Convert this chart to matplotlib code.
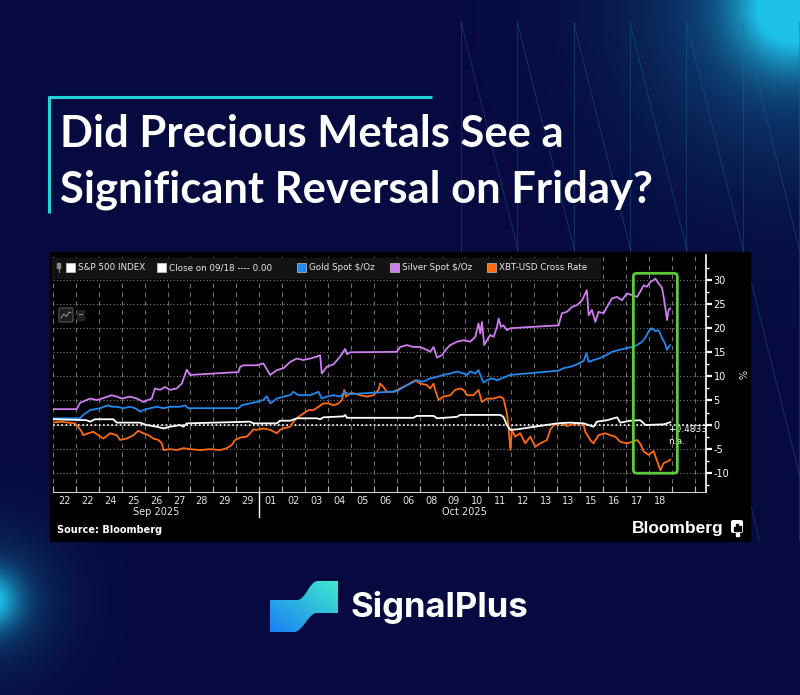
import numpy as np
import matplotlib
matplotlib.use('Agg')
import matplotlib.pyplot as plt
from matplotlib.patches import Rectangle, FancyBboxPatch, PathPatch
from matplotlib.path import Path
from matplotlib.ticker import FixedLocator

plt.rcParams['axes.unicode_minus'] = False

W, H = 800, 695

# % change since 09/18 close, x = days from left edge of the chart window
silver_x = [0.00, 1.03, 1.18, 1.62, 1.91, 2.20, 2.56, 2.78, 3.00, 3.36, 3.66, 3.94, 4.31, 4.45, 4.67, 4.89, 5.11, 5.40, 5.62, 5.84,
            5.98, 8.09, 8.17, 8.31, 8.60, 8.90, 9.18, 9.48, 9.77, 10.06, 10.35, 10.64, 10.93, 11.22, 11.52, 11.66, 11.73, 11.95, 12.24, 12.53,
            12.75, 12.83, 12.97, 15.01, 15.15, 15.45, 15.73, 16.03, 16.32, 16.46, 16.61, 16.76, 16.97, 17.19, 17.34, 17.63, 17.92, 18.21, 18.43, 18.57,
            18.65, 18.72, 18.82, 18.94, 19.08, 19.23, 19.38, 19.45, 19.55, 19.66, 19.81, 19.96, 22.07, 22.21, 22.43, 22.65, 22.87, 23.09, 23.23, 23.30,
            23.38, 23.52, 23.67, 23.81, 24.03, 24.18, 24.40, 24.62, 24.83, 25.05, 25.27, 25.49, 25.63, 25.78, 25.92, 26.07, 26.21, 26.29, 26.43, 26.58,
            26.65, 26.72, 26.80, 26.87, 26.94]
silver_y = [3.2, 3.2, 4.5, 5.4, 5.1, 5.5, 6.1, 5.8, 5.4, 5.8, 5.4, 4.7, 5.4, 7.5, 7.2, 7.8, 7.2, 7.5, 8.5, 11.4,
            10.3, 10.9, 12.0, 12.3, 12.3, 12.3, 12.7, 10.3, 11.3, 11.7, 13.0, 13.7, 13.4, 13.7, 14.1, 14.4, 10.6, 12.0, 12.5, 14.1,
            15.7, 14.6, 15.0, 15.1, 16.1, 16.5, 16.1, 16.1, 15.5, 15.1, 16.1, 13.9, 14.4, 15.8, 16.5, 17.2, 17.5, 17.2, 18.2, 21.0,
            18.9, 21.3, 16.5, 17.5, 18.6, 18.2, 20.3, 22.0, 20.3, 20.6, 19.6, 20.0, 20.6, 23.1, 23.4, 24.4, 24.8, 25.8, 27.2, 27.9,
            22.7, 23.8, 21.3, 23.4, 23.1, 24.4, 26.2, 26.5, 25.8, 27.2, 26.9, 26.5, 27.6, 28.9, 28.6, 29.6, 30.0, 30.3, 29.3, 28.4,
            26.5, 24.4, 21.7, 23.8, 24.1]

gold_x = [0.00, 1.18, 1.32, 1.62, 2.05, 2.41, 2.56, 2.78, 3.07, 3.36, 3.58, 3.80, 3.94, 4.24, 4.53, 4.82, 5.11, 5.55, 5.76, 5.91,
          8.09, 8.24, 8.60, 8.90, 9.18, 9.33, 9.48, 9.77, 10.06, 10.35, 10.49, 10.71, 10.93, 11.22, 11.59, 11.73, 11.95, 12.24, 12.53, 12.68,
          12.75, 12.90, 15.01, 15.30, 15.59, 15.88, 16.17, 16.46, 16.76, 17.04, 17.34, 17.63, 17.92, 18.07, 18.21, 18.43, 18.57, 18.65, 18.79, 18.94,
          19.16, 19.38, 19.59, 19.74, 19.96, 22.07, 22.28, 22.58, 22.87, 23.16, 23.28, 23.38, 23.59, 23.81, 24.10, 24.40, 24.69, 24.98, 25.27, 25.49,
          25.71, 25.85, 26.00, 26.14, 26.29, 26.43, 26.58, 26.72, 26.80, 26.87, 26.94]
gold_y = [1.3, 1.3, 2.0, 3.0, 3.4, 4.0, 3.7, 3.7, 3.4, 3.7, 3.4, 2.7, 3.0, 3.4, 3.7, 3.4, 3.7, 3.7, 4.0, 3.4,
          3.4, 4.0, 4.4, 4.7, 5.1, 5.9, 4.4, 5.4, 5.8, 6.1, 6.8, 6.1, 6.1, 6.1, 6.8, 5.4, 5.8, 6.1, 5.8, 6.5,
          6.8, 6.3, 6.9, 7.8, 8.5, 9.2, 8.9, 9.6, 9.9, 10.3, 10.6, 11.0, 10.6, 10.3, 11.0, 10.6, 11.3, 10.3, 8.7, 9.2,
          9.6, 9.2, 9.6, 9.9, 10.3, 11.2, 11.7, 12.0, 12.5, 13.2, 14.8, 13.0, 13.4, 13.7, 14.3, 15.1, 15.5, 15.8, 16.1, 16.5,
          17.2, 18.0, 19.4, 20.0, 19.4, 19.6, 18.0, 16.7, 15.5, 16.1, 16.5]

spx_x = [0.00, 1.47, 1.62, 1.83, 2.63, 2.78, 3.80, 4.09, 4.53, 4.82, 5.11, 5.55, 5.69, 5.84, 8.60, 8.75, 9.77, 9.91, 10.35, 10.64,
         11.52, 11.66, 11.80, 12.68, 12.75, 12.83, 15.73, 15.88, 16.61, 16.76, 17.63, 17.77, 19.52, 19.66, 19.81, 19.96, 20.25, 22.00, 22.58, 23.16,
         23.59, 23.74, 24.18, 24.62, 24.76, 25.20, 25.63, 25.78, 25.85, 26.65, 26.80, 26.94]
spx_y = [1.1, 0.9, 0.6, 1.1, 1.1, 0.4, 0.4, -0.1, -0.45, -0.8, -0.45, -0.1, -0.45, 0.25, 0.6, 0.25, 0.25, 0.8, 0.8, 1.3,
         1.3, 1.1, 1.5, 1.7, 2.0, 1.4, 1.4, 1.8, 1.8, 1.3, 1.6, 2.0, 2.0, 1.6, -0.1, -1.1, -1.0, 0.25, 0.4, 0.25,
         -0.45, 0.6, 0.9, 1.5, 0.4, 0.8, 0.9, 0.25, -0.1, 0.05, 0.25, 0.4833]

xbt_x = [0.00, 0.31, 0.96, 1.10, 1.25, 1.32, 1.54, 1.76, 1.98, 2.20, 2.49, 2.78, 2.93, 3.22, 3.51, 3.72, 3.94, 4.16, 4.38, 4.60,
         4.75, 4.82, 5.11, 5.40, 5.69, 5.98, 6.42, 6.86, 7.29, 7.59, 7.80, 7.95, 8.17, 8.46, 8.60, 8.75, 8.90, 9.18, 9.48, 9.77,
         9.91, 10.06, 10.35, 10.49, 10.71, 10.93, 11.15, 11.37, 11.59, 11.80, 12.02, 12.24, 12.46, 12.61, 12.71, 12.79, 12.97, 13.11, 13.41, 13.70,
         13.99, 14.21, 14.28, 14.42, 14.57, 14.86, 15.15, 15.45, 15.81, 16.03, 16.32, 16.46, 16.61, 16.68, 16.83, 17.04, 17.34, 17.55, 17.77, 17.92,
         18.07, 18.35, 18.57, 18.72, 18.94, 19.23, 19.52, 19.66, 19.81, 19.88, 19.96, 20.03, 20.17, 20.39, 20.61, 20.83, 21.05, 21.27, 21.56, 21.70,
         21.85, 22.14, 22.43, 22.72, 23.01, 23.16, 23.23, 23.45, 23.59, 23.81, 24.10, 24.32, 24.54, 24.76, 25.05, 25.27, 25.49, 25.63, 25.78, 26.00,
         26.21, 26.36, 26.51, 26.65, 26.80, 26.94]
xbt_y = [0.4, 0.6, 0.25, -0.45, -1.5, -2.2, -1.8, -1.5, -2.2, -2.9, -1.8, -2.2, -3.2, -2.9, -2.2, -1.3, -1.8, -2.2, -2.9, -3.2,
         -3.9, -5.3, -5.1, -5.3, -4.9, -5.1, -5.3, -5.1, -5.3, -4.9, -4.25, -3.2, -2.7, -2.5, -1.8, -1.0, -1.1, -0.8, -1.1, -1.8,
         -1.1, -0.8, -0.45, 0.6, 1.6, 2.3, 3.0, 3.0, 3.7, 4.4, 4.4, 4.0, 4.4, 5.1, 7.2, 5.8, 6.5, 6.5, 6.1, 5.8,
         6.1, 7.2, 8.5, 7.8, 6.8, 6.8, 7.5, 8.2, 9.2, 8.5, 8.2, 7.5, 8.5, 7.2, 5.1, 5.8, 6.1, 7.2, 7.5, 7.2,
         6.1, 6.1, 7.2, 4.7, 5.4, 5.4, 5.8, 5.4, 2.3, -0.45, -5.3, -1.1, -2.5, -1.8, -3.9, -2.5, -4.6, -3.9, -3.2, -1.1,
         -0.1, 0.25, -0.3, 0.1, 0.25, 0.0, -1.5, -3.2, -3.9, -2.2, -1.8, -2.2, -2.5, -3.6, -3.9, -3.6, -3.2, -4.0, -5.6, -6.3,
         -5.5, -7.5, -9.5, -8.0, -7.7, -7.3]

close_ref = 0.00
day_labels = ['22', '22', '24', '25', '26', '27', '28', '29', '29',
              '01', '02', '03', '04', '05', '06', '06', '08', '09', '10', '11', '12', '13', '13', '15', '16', '17', '18']
month_labels = ['Sep 2025', 'Oct 2025']
month_break = 9
legend_labels = ['S&P 500 INDEX', 'Close on 09/18 ---- 0.00', 'Gold Spot $/Oz', 'Silver Spot $/Oz', 'XBT-USD Cross Rate']
title_lines = ['Did Precious Metals See a', 'Significant Reversal on Friday?']
friday_window = (25.33, 27.25)   # highlighted days
friday_range = (-10.1, 31.4)     # highlighted % range

# colours
navy = np.array([6, 10, 64]) / 255
c_spx, c_gold, c_silver, c_xbt = 'white', '#2189f0', '#cf7ef0', '#ff6a0d'
legend_colors = [c_spx, 'white', c_gold, c_silver, c_xbt]

fig = plt.figure(figsize=(8, 6.95), dpi=100)

# ---------- background (pixel coordinates) ----------
bg = fig.add_axes([0, 0, 1, 1], zorder=0)
yy, xx = np.mgrid[0:H, 0:W].astype(float)
img = np.ones((H, W, 3)) * navy

def glow(cx, cy, s, a):
    return a * np.exp(-((xx - cx) ** 2 + (yy - cy) ** 2) / (2 * s * s))

cyan = np.array([0.12, 0.76, 0.92])
for g in (glow(792, 8, 40, 0.95) + glow(792, 8, 110, 0.35), glow(-10, 600, 20, 0.8) + glow(-10, 600, 50, 0.25)):
    g = np.clip(g, 0, 1)[..., None]
    img = img * (1 - g) + cyan * g
bg.imshow(img, extent=[0, W, H, 0], aspect='auto', interpolation='bilinear')
bg.set_xlim(0, W)
bg.set_ylim(H, 0)
bg.axis('off')

for k in range(7):
    x0 = 461 + 56.3 * k
    bg.plot([x0, x0], [22, 541], color='#1f6c98', lw=0.5, alpha=0.55)
    bg.plot([x0, x0 + 0.25 * 519], [22, 541], color='#1f6c98', lw=0.5, alpha=0.55)

# title
bg.plot([48, 432], [97, 97], color='#1fd3d8', lw=2.2, solid_capstyle='butt')
bg.plot([49, 49], [96, 213], color='#1fd3d8', lw=2.2, solid_capstyle='butt')
fs = 30
t1 = bg.text(60, 147, title_lines[0], fontsize=fs, family='Lato', weight='bold', color='white', va='baseline')
t2 = bg.text(60, 202, title_lines[1], fontsize=fs, family='Lato', weight='bold', color='white', va='baseline')
fig.canvas.draw()
wpx = t2.get_window_extent(fig.canvas.get_renderer()).width
t1.set_fontsize(fs * 592 / wpx)
t2.set_fontsize(fs * 592 / wpx)

# chart panel
bg.add_patch(Rectangle((50, 252), 700, 289, color='black', zorder=3))

# ---------- main chart ----------
ax = fig.add_axes([53 / W, 1 - 492 / H, (706 - 53) / W, (492 - 255) / H], zorder=2)
ax.set_facecolor('black')
ax.set_xlim(0, 28.5)
ax.set_ylim(-14, 35.2)

ax.axhline(close_ref, color='white', ls=(0, (1, 1.5)), lw=1.2, zorder=2)
ax.plot(spx_x, spx_y, color=c_spx, lw=1.3, zorder=4)
ax.plot(xbt_x, xbt_y, color=c_xbt, lw=1.3, zorder=3)
ax.plot(gold_x, gold_y, color=c_gold, lw=1.3, zorder=3)
ax.plot(silver_x, silver_y, color=c_silver, lw=1.3, zorder=3)

ax.set_xticks(np.arange(0, 29))
ax.set_xticklabels([])
ax.set_xticks(np.arange(len(day_labels)) + 0.5, minor=True)
ax.set_xticklabels(day_labels, minor=True)
ax.tick_params(axis='x', which='major', direction='in', length=4, width=0.8, color='#bbbbbb')
ax.tick_params(axis='x', which='minor', length=0, labelsize=7, labelcolor='#e6e6e6', pad=3)

ax.yaxis.tick_right()
ax.yaxis.set_major_locator(FixedLocator(range(-10, 31, 5)))
ax.yaxis.set_minor_locator(FixedLocator(np.arange(-12.5, 35, 2.5)))
ax.tick_params(axis='y', which='major', direction='out', length=4, width=1.6, colors='white', labelsize=7, pad=1.5)
ax.tick_params(axis='y', which='minor', direction='out', length=2.5, width=1, color='white')

ax.grid(axis='x', which='major', color='#6e6e6e', ls=(0, (4, 4)), lw=0.8)
ax.grid(axis='y', which='major', color='#7a7a7a', ls=(0, (1, 2)), lw=0.8)
for s in ('left', 'top'):
    ax.spines[s].set_visible(False)
ax.spines['bottom'].set_color('#cfcfcf')
ax.spines['right'].set_color('white')
ax.spines['right'].set_linewidth(1.2)

xt = ax.get_xaxis_transform()
ax.plot([month_break, month_break], [0, -0.105], transform=xt, color='white', lw=1, clip_on=False)
month_centers = [month_break / 2, (month_break + xbt_x[-1]) / 2]
for lab, cx in zip(month_labels, month_centers):
    ax.text(cx, -0.084, lab, transform=xt, ha='center', va='center', fontsize=7, color='#e6e6e6')

ax.text(xbt_x[-1] - 0.1, -1.1, f'+{spx_y[-1]:.4f}', fontsize=6.5, color='white', ha='left', va='center', clip_on=False)
ax.text(xbt_x[-1] - 0.1, -3.6, 'n.a.', fontsize=6.5, color='white', ha='left', va='center', clip_on=False)

ax.add_patch(FancyBboxPatch((friday_window[0], friday_range[0]), friday_window[1] - friday_window[0],
                            friday_range[1] - friday_range[0], boxstyle='round,pad=0,rounding_size=0.15',
                            mutation_aspect=4.7, ec='#5ccb3a', fc='none', lw=2, zorder=6, clip_on=False))

# ---------- overlay (legend, labels, logos) ----------
ov = fig.add_axes([0, 0, 1, 1], zorder=5)
ov.set_xlim(0, W)
ov.set_ylim(H, 0)
ov.axis('off')
ov.patch.set_alpha(0)

ov.add_patch(Rectangle((52, 258), 548, 20, color='#131313'))
ov.add_patch(Rectangle((57, 263), 3, 5, color='#8a8a8a'))
ov.plot([58.5, 58.5], [268, 272], color='#8a8a8a', lw=0.8)
leg_x = [66, 157, 297, 390, 487]
for lx, lab, col in zip(leg_x, legend_labels, legend_colors):
    ov.add_patch(Rectangle((lx, 263), 9, 9, fc=col, ec='#dddddd', lw=0.4))
    ov.text(lx + 12, 268, lab, fontsize=6.3, color='#e8e8e8', va='center', ha='left')

ov.add_patch(FancyBboxPatch((59, 308), 14, 14, boxstyle='round,pad=0,rounding_size=1.5', fc='#1c1c1c', ec='#5a5a5a', lw=0.8))
ov.plot([61, 64, 66.5, 69, 71], [318, 314, 316.5, 312, 313], color='#9a9a9a', lw=0.7)
ov.add_patch(Rectangle((77, 310), 7, 10, color='#222222'))
ov.plot([79, 82], [314, 314], color='#888888', lw=0.8)

ov.text(740, 375, '%', rotation=270, fontsize=7, color='#dddddd', ha='center', va='center')

ov.text(57, 530, 'Source: Bloomberg', fontsize=7, weight='bold', color='white', va='center', ha='left')
ov.text(632, 528, 'Bloomberg', fontsize=12.5, family='Liberation Sans', weight='bold', color='white', va='center', ha='left')
ov.add_patch(FancyBboxPatch((731, 520), 12, 13, boxstyle='round,pad=0,rounding_size=2', fc='white', ec='none'))
ov.add_patch(Rectangle((735.5, 533), 3, 3, color='white'))
for bx, bh in zip([733.5, 736.2, 738.9], [4, 7, 5]):
    ov.add_patch(Rectangle((bx, 531 - bh), 1.6, bh, color='black'))

# SignalPlus logo
verts = [(270, 600), (297, 600), (306, 600), (309, 581), (318, 581), (338, 581), (338, 613), (317, 613),
         (308, 613), (303, 632), (294, 632), (270, 632), (270, 600)]
codes = [Path.MOVETO, Path.LINETO, Path.CURVE4, Path.CURVE4, Path.CURVE4, Path.LINETO, Path.LINETO, Path.LINETO,
         Path.CURVE4, Path.CURVE4, Path.CURVE4, Path.LINETO, Path.CLOSEPOLY]
logo = PathPatch(Path(verts, codes), fc='none', ec='none')
ov.add_patch(logo)
gy, gx = np.mgrid[0:1:60j, 0:1:80j]
tt = np.clip((gx + (1 - gy)) / 2, 0, 1)[..., None]
c0 = np.array([0.10, 0.50, 0.96])
c1 = np.array([0.25, 0.92, 0.80])
grad = c0 * (1 - tt) + c1 * tt
im = ov.imshow(grad, extent=[270, 338, 632, 580], aspect='auto', interpolation='bilinear')
im.set_clip_path(logo)
ov.set_xlim(0, W)
ov.set_ylim(H, 0)
ov.text(350, 617, 'SignalPlus', fontsize=25, family='Inter', weight='bold', color='white', va='baseline', ha='left')

fig.savefig('out.png', dpi=100, facecolor=navy)
